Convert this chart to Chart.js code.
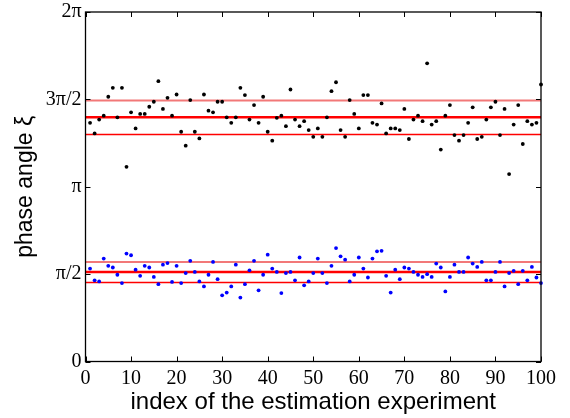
<!DOCTYPE html>
<html>
<head>
<meta charset="utf-8">
<script src="https://cdn.jsdelivr.net/npm/chart.js@4.4.1/dist/chart.umd.min.js"></script>
<style>
  html, body { margin: 0; padding: 0; background: #ffffff; }
  #wrap { width: 570px; height: 418px; }
</style>
</head>
<body>
<div id="wrap"><canvas id="c" width="570" height="418"></canvas></div>
<script>
// Black series (upper cluster), experiments 1..100
const blackPhase = [
  4.29, 4.10, 4.35, 4.42, 4.76, 4.92, 4.39, 4.92, 3.50, 4.48,
  4.19, 4.45, 4.45, 4.58, 4.67, 5.04, 4.54, 4.74, 4.42, 4.80,
  4.13, 3.88, 4.70, 4.13, 4.01, 4.80, 4.51, 4.48, 4.67, 4.67,
  4.39, 4.29, 4.39, 4.92, 4.79, 4.35, 4.61, 4.29, 4.76, 4.13,
  3.97, 4.38, 4.42, 4.23, 4.89, 4.35, 4.23, 4.32, 4.16, 4.04,
  4.19, 4.04, 4.39, 4.86, 5.02, 4.16, 4.04, 4.70, 4.45, 4.19,
  4.79, 4.79, 4.29, 4.26, 4.64, 4.10, 4.19, 4.19, 4.16, 4.54,
  4.00, 4.35, 4.42, 4.32, 5.36, 4.26, 4.32, 3.81, 4.42, 4.61,
  4.07, 3.97, 4.07, 4.29, 4.57, 4.00, 4.04, 4.35, 4.57, 4.67,
  4.07, 4.54, 3.37, 4.26, 4.61, 3.91, 4.32, 4.26, 4.29, 4.98
];
// Blue series (lower cluster), experiments 1..100
const bluePhase = [
  1.67, 1.46, 1.44, 1.85, 1.72, 1.69, 1.56, 1.41, 1.94, 1.91,
  1.65, 1.54, 1.72, 1.69, 1.52, 1.39, 1.74, 1.77, 1.43, 1.72,
  1.41, 1.59, 1.81, 1.61, 1.44, 1.35, 1.56, 1.79, 1.48, 1.19,
  1.24, 1.35, 1.74, 1.15, 1.39, 1.64, 1.81, 1.28, 1.56, 1.92,
  1.67, 1.61, 1.23, 1.59, 1.61, 1.46, 1.87, 1.37, 1.44, 1.59,
  1.85, 1.59, 1.41, 1.72, 2.04, 1.89, 1.83, 1.44, 1.56, 1.87,
  1.67, 1.51, 1.85, 1.98, 1.99, 1.54, 1.24, 1.65, 1.48, 1.69,
  1.67, 1.61, 1.56, 1.52, 1.57, 1.52, 1.76, 1.69, 1.26, 1.52,
  1.74, 1.61, 1.61, 1.87, 1.76, 1.70, 1.79, 1.46, 1.46, 1.61,
  1.79, 1.35, 1.59, 1.63, 1.39, 1.63, 1.46, 1.70, 1.51, 1.41
];
// Reference lines: [upper, mean, lower]
const blackLines = [4.69, 4.39, 4.08];
const blueLines = [1.79, 1.61, 1.42];

const xRange = [0, 100];
const xTickValues = [0, 10, 20, 30, 40, 50, 60, 70, 80, 90, 100];
const yTickValues = [0, Math.PI / 2, Math.PI, 3 * Math.PI / 2, 2 * Math.PI];
const yTickLabels = ['0', 'π/2', 'π', '3π/2', '2π'];

const toPoints = arr => arr.map((v, i) => ({ x: i + 1, y: v }));
const hLine = y => [{ x: xRange[0], y: y }, { x: xRange[1], y: y }];

const lineStyles = [
  { color: 'rgb(242,120,120)', width: 2 },
  { color: 'rgb(255,0,0)', width: 2.6 },
  { color: 'rgb(255,0,0)', width: 1.4 }
];

const datasets = [];
[blackLines, blueLines].forEach(group => {
  group.forEach((y, k) => {
    datasets.push({
      type: 'line', data: hLine(y), borderColor: lineStyles[k].color,
      borderWidth: lineStyles[k].width, pointRadius: 0, fill: false, order: 2
    });
  });
});
datasets.push({
  type: 'scatter', data: toPoints(blackPhase), backgroundColor: '#000000',
  borderWidth: 0, pointRadius: 1.9, clip: false, order: 0
});
datasets.push({
  type: 'scatter', data: toPoints(bluePhase), backgroundColor: '#0000ff',
  borderWidth: 0, pointRadius: 1.9, clip: false, order: 0
});

const boxPlugin = {
  id: 'boxPlugin',
  afterDraw(chart) {
    const { ctx, chartArea: a, scales: { x, y } } = chart;
    ctx.save();
    ctx.strokeStyle = '#000';
    ctx.lineWidth = 1.3;
    ctx.strokeRect(a.left, a.top, a.right - a.left, a.bottom - a.top);
    ctx.lineWidth = 1;
    const L = 5;
    ctx.beginPath();
    xTickValues.forEach(v => {
      const px = Math.round(x.getPixelForValue(v)) + 0.5;
      ctx.moveTo(px, a.bottom); ctx.lineTo(px, a.bottom - L);
      ctx.moveTo(px, a.top); ctx.lineTo(px, a.top + L);
    });
    yTickValues.forEach(v => {
      const py = Math.round(y.getPixelForValue(v)) + 0.5;
      ctx.moveTo(a.left, py); ctx.lineTo(a.left + L, py);
      ctx.moveTo(a.right, py); ctx.lineTo(a.right - L, py);
    });
    ctx.stroke();
    ctx.restore();
  }
};

new Chart(document.getElementById('c'), {
  data: { datasets },
  options: {
    responsive: false,
    animation: false,
    events: [],
    layout: { padding: { left: 0, right: 29, top: 8, bottom: 0 } },
    plugins: { legend: { display: false }, tooltip: { enabled: false } },
    scales: {
      x: {
        type: 'linear', min: xRange[0], max: xRange[1],
        afterBuildTicks: s => { s.ticks = xTickValues.map(v => ({ value: v })); },
        afterFit: s => { s.height = 56.5; },
        grid: { display: false, drawTicks: false },
        border: { display: false },
        ticks: {
          color: '#000', padding: 5, maxRotation: 0, autoSkip: false,
          font: { family: '"Liberation Serif", "Times New Roman", serif', size: 20 }
        },
        title: {
          display: true, text: 'index of the estimation experiment', color: '#000',
          font: { family: '"Liberation Sans", Arial, sans-serif', size: 24, lineHeight: 1.2 },
          padding: { top: 0, bottom: 1 }
        }
      },
      y: {
        type: 'linear', min: 0, max: 2 * Math.PI,
        afterBuildTicks: s => { s.ticks = yTickValues.map(v => ({ value: v })); },
        afterFit: s => { s.width = 85.5; },
        grid: { display: false, drawTicks: false },
        border: { display: false },
        ticks: {
          color: '#000', padding: 4, autoSkip: false,
          font: { family: '"Liberation Serif", "Times New Roman", serif', size: 20, lineHeight: 0.8 },
          callback: (v, i) => yTickLabels[i]
        },
        title: {
          display: true, text: 'phase angle ξ', color: '#000',
          font: { family: '"Liberation Sans", Arial, sans-serif', size: 23, lineHeight: 1.2 },
          padding: { top: 12, bottom: 0 }
        }
      }
    }
  },
  plugins: [boxPlugin]
});
</script>
</body>
</html>
